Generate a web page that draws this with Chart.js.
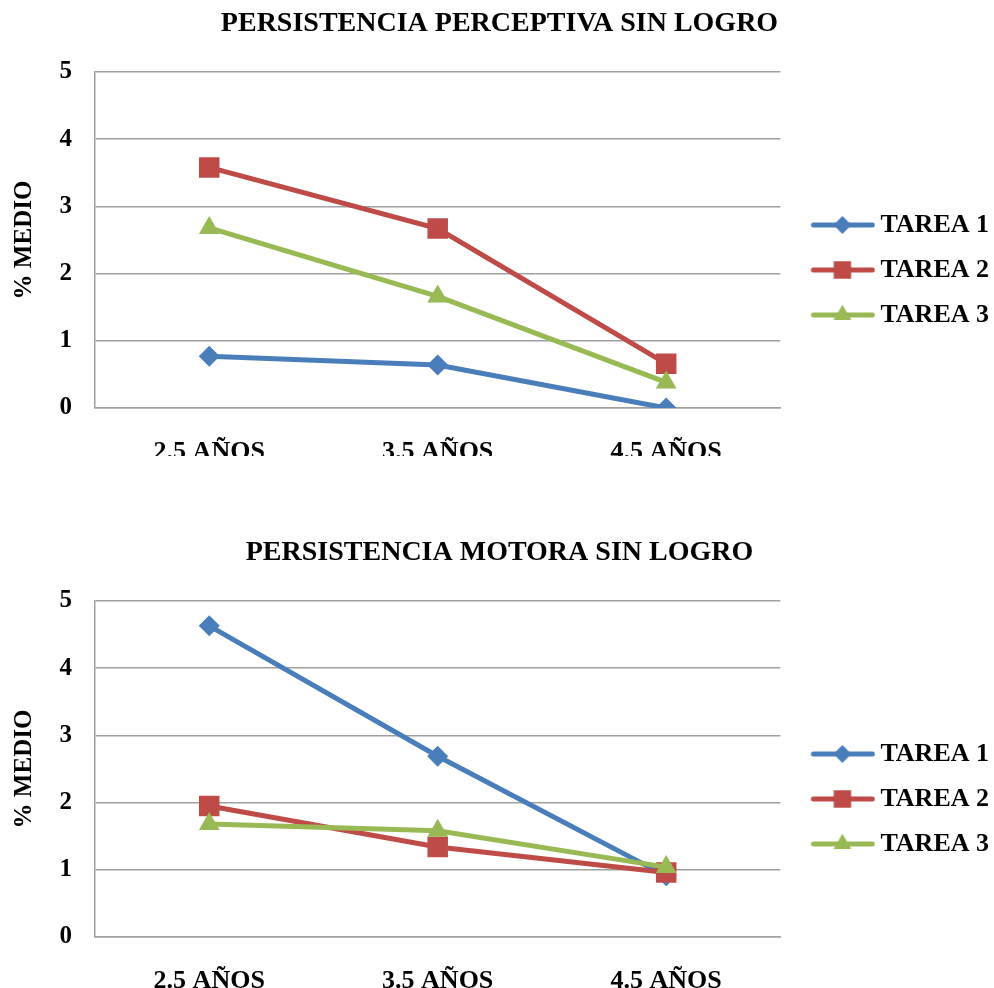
<!DOCTYPE html>
<html>
<head>
<meta charset="utf-8">
<script src="https://cdn.jsdelivr.net/npm/chart.js@4.4.1/dist/chart.umd.min.js"></script>
<style>
  html, body { margin: 0; padding: 0; background: #fff; overflow: hidden; width: 994px; height: 988px; }
  .caja { position: absolute; left: 0; width: 994px; overflow: hidden; }
</style>
</head>
<body>
<div class="caja" style="top:0;height:456px"><canvas id="graficoPerceptiva" width="994" height="500"></canvas></div>
<div class="caja" style="top:529px;height:459px"><canvas id="graficoMotora" width="994" height="500"></canvas></div>
<script>
const categorias = ['2.5 AÑOS', '3.5 AÑOS', '4.5 AÑOS'];
const tareas = ['TAREA 1', 'TAREA 2', 'TAREA 3'];
const ticksY = [0, 1, 2, 3, 4, 5];

// persistencia perceptiva sin logro
const perceptivaTarea1 = [0.77, 0.64, 0.0];
const perceptivaTarea2 = [3.58, 2.67, 0.66];
const perceptivaTarea3 = [2.68, 1.66, 0.38];

// persistencia motora sin logro
const motoraTarea1 = [4.63, 2.69, 0.91];
const motoraTarea2 = [1.95, 1.34, 0.96];
const motoraTarea3 = [1.68, 1.58, 1.04];

const colores = ['#4A7EBB', '#BE4B48', '#98B954'];
const marcas = ['rectRot', 'rect', 'triangle'];
const radios = [10.5, 14.5, 12];
const fuente = '"Liberation Serif", "Times New Roman", serif';

// icono de leyenda: linea con la marca en medio
function iconoLeyenda(i) {
  const c = document.createElement('canvas');
  c.width = 84;
  c.height = 26;
  const ctx = c.getContext('2d');
  ctx.strokeStyle = colores[i];
  ctx.fillStyle = colores[i];
  ctx.lineWidth = 5;
  ctx.lineCap = 'round';
  ctx.beginPath();
  ctx.moveTo(22, 13);
  ctx.lineTo(81, 13);
  ctx.stroke();
  Chart.helpers.drawPoint(ctx, { pointStyle: marcas[i], radius: radios[i] * 0.85, rotation: 0, borderWidth: 0 }, 51, 13);
  return c;
}

// baja la leyenda para centrarla como en el original
const bajarLeyenda = {
  id: 'bajarLeyenda',
  afterLayout(chart) {
    chart.legend.top += 20;
    chart.legend.bottom += 20;
  }
};

function crearGrafico(id, titulo, series) {
  const ctx = document.getElementById(id).getContext('2d');
  return new Chart(ctx, {
    type: 'line',
    data: {
      labels: categorias,
      datasets: series.map((datos, i) => ({
        label: tareas[i],
        data: datos,
        borderColor: colores[i],
        backgroundColor: colores[i],
        borderWidth: 5,
        pointStyle: marcas[i],
        pointRadius: radios[i],
        pointBorderWidth: 0,
        pointBackgroundColor: colores[i],
        tension: 0,
        order: 3 - i
      }))
    },
    plugins: [bajarLeyenda],
    options: {
      responsive: false,
      animation: false,
      layout: { padding: { right: -5 } },
      plugins: {
        title: {
          display: true,
          text: titulo,
          color: '#000',
          font: { family: fuente, size: 28, weight: 'bold' },
          padding: { top: 7, bottom: 31.4 }
        },
        legend: {
          position: 'right',
          labels: {
            usePointStyle: true,
            pointStyleWidth: 68,
            padding: 19,
            color: '#000',
            font: { family: fuente, size: 26, weight: 'bold' },
            sort: (a, b) => a.datasetIndex - b.datasetIndex,
            generateLabels: (chart) => chart.data.datasets.map((ds, i) => ({
              text: ds.label,
              pointStyle: iconoLeyenda(i),
              datasetIndex: i,
              fontColor: '#000',
              lineWidth: 0,
              hidden: false
            }))
          }
        },
        tooltip: { enabled: false }
      },
      scales: {
        x: {
          offset: true,
          grid: { display: false, offset: true },
          border: { display: true, color: '#a0a0a0', width: 1.5 },
          ticks: {
            color: '#000',
            padding: 21,
            font: { family: fuente, size: 26, weight: 'bold' }
          },
          afterFit: (scale) => { scale.height = 92; }
        },
        y: {
          min: 0,
          max: 5,
          afterBuildTicks: (scale) => { scale.ticks = ticksY.map(v => ({ value: v })); },
          grid: { color: '#a0a0a0', lineWidth: 1.5, drawTicks: false },
          border: { display: true, color: '#a0a0a0', width: 1.5 },
          ticks: {
            color: '#000',
            padding: 23,
            font: { family: fuente, size: 25, weight: 'bold' }
          },
          title: {
            display: true,
            text: '% MEDIO',
            color: '#000',
            padding: { top: 10, bottom: 0 },
            font: { family: fuente, size: 25, weight: 'bold' }
          },
          afterFit: (scale) => { scale.width = 95; }
        }
      }
    }
  });
}

crearGrafico('graficoPerceptiva', 'PERSISTENCIA PERCEPTIVA SIN LOGRO',
  [perceptivaTarea1, perceptivaTarea2, perceptivaTarea3]);
crearGrafico('graficoMotora', 'PERSISTENCIA MOTORA SIN LOGRO',
  [motoraTarea1, motoraTarea2, motoraTarea3]);
</script>
</body>
</html>
